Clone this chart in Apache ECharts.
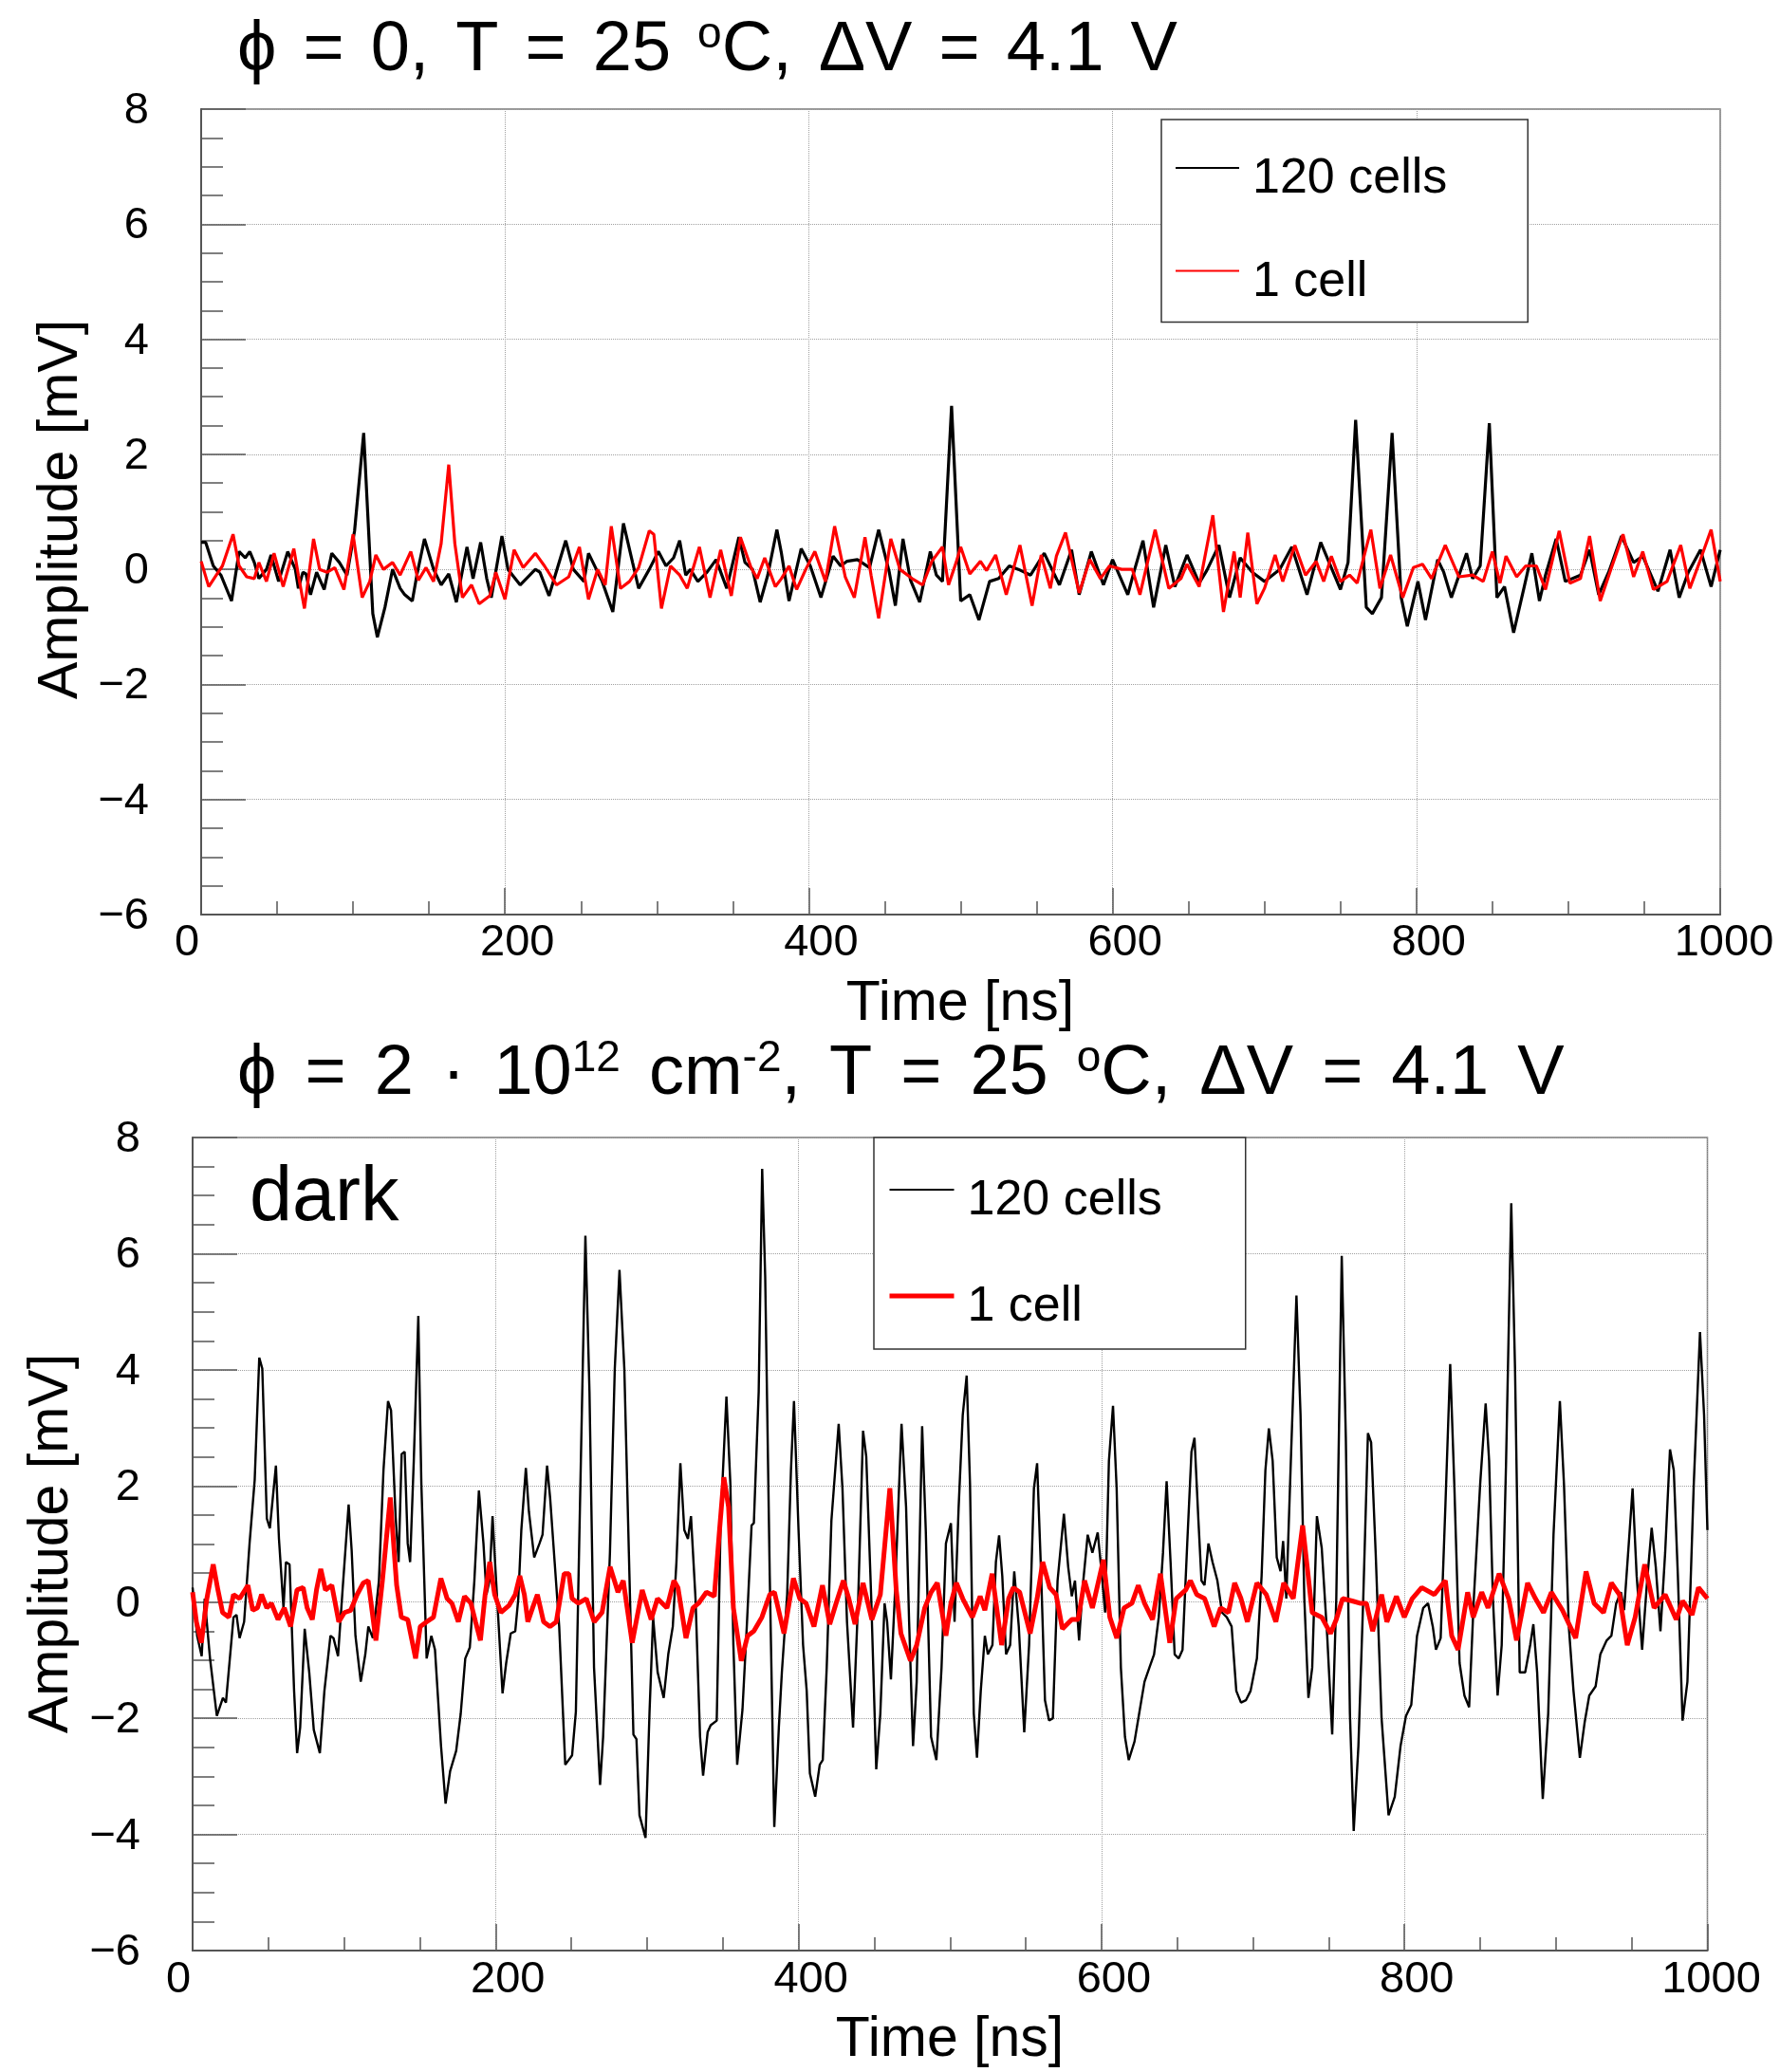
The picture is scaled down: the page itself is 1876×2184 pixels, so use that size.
<!DOCTYPE html>
<html><head><meta charset="utf-8">
<script src="https://cdn.jsdelivr.net/npm/echarts@6/dist/echarts.min.js"></script>
<style>html,body{margin:0;padding:0;background:#fff}#c{width:1876px;height:2184px}</style>
</head><body><div id="c"></div>
<script>
// ---------------- data (time [ns], amplitude [mV]) ----------------
const xRange = [0, 1000];
const yRange = [-6, 8];
const legendNames = ['120 cells', '1 cell'];

const topBlack = [[0,0.47],[3,0.47],[8,0.06],[13,-0.10],[20,-0.55],[25,0.31],[29,0.20],[32,0.31],[35,0.12],[38,-0.16],[43,0.0],[46,0.25],[51,-0.21],[57,0.31],[62,0],[64,-0.33],[67,-0.05],[69,-0.08],[72,-0.44],[76,-0.05],[81,-0.35],[86,0.28],[91,0.12],[96,-0.10],[101,0.67],[107,2.37],[111.5,0],[113,-0.77],[116,-1.18],[121,-0.66],[126,0],[131,-0.33],[134,-0.44],[139,-0.55],[142,-0.10],[147,0.53],[153,0],[158,-0.27],[163,-0.08],[168,-0.57],[175,0.39],[179,-0.16],[184,0.47],[188,-0.16],[191,-0.49],[198,0.58],[202,0],[210,-0.27],[220,0],[223,-0.05],[229,-0.46],[240,0.50],[245,0],[252,-0.21],[255,0.28],[264,-0.21],[271,-0.74],[278,0.80],[284,0.12],[288,-0.33],[295,0],[301,0.31],[306,0.06],[311,0.20],[315,0.50],[319,-0.10],[322,0],[327,-0.21],[333,-0.05],[339,0.17],[346,-0.33],[354,0.56],[358,0.12],[363,0],[368,-0.57],[373,-0.10],[379,0.69],[382,0.28],[387,-0.55],[395,0.36],[401,0.06],[408,-0.49],[416,0.23],[421,0.06],[425,0.14],[432,0.17],[440,0.03],[446,0.69],[453,-0.05],[457,-0.63],[462,0.53],[467,-0.19],[473,-0.57],[480,0.31],[484,-0.10],[488,-0.21],[494,2.84],[500,-0.55],[506,-0.44],[512,-0.88],[519,-0.21],[525,-0.16],[532,0.06],[538,0],[546,-0.10],[555,0.28],[565,-0.27],[573,0.34],[578,-0.44],[586,0.31],[594,-0.27],[600,0.17],[610,-0.44],[614,-0.05],[620,0.50],[627,-0.66],[635,0.42],[641,-0.30],[649,0.25],[657,-0.24],[662,-0.02],[670,0.42],[677,-0.49],[684,0.20],[692,-0.05],[700,-0.21],[710,0],[718,0.39],[728,-0.44],[737,0.47],[747,-0.16],[750,-0.35],[755,0.12],[760,2.60],[767,-0.66],[771,-0.77],[777,-0.49],[784,2.37],[790,-0.49],[794,-0.99],[801,-0.21],[806,-0.88],[814,0.17],[818,-0.05],[823,-0.49],[833,0.28],[837,-0.16],[842,0.06],[848,2.54],[853,-0.49],[858,-0.30],[864,-1.10],[871,-0.30],[876,0.28],[881,-0.55],[885,-0.10],[892,0.53],[898,-0.21],[908,-0.10],[914,0.34],[920,-0.44],[927,-0.02],[935,0.58],[943,0.12],[949,0.23],[959,-0.38],[967,0.34],[973,-0.49],[979,-0.05],[987,0.34],[994,-0.30],[1000,0.34]];

const topRed = [[0,0.14],[5,-0.30],[10,-0.10],[14,0.06],[21,0.61],[25,0.06],[30,-0.13],[35,-0.16],[38,0.12],[43,-0.21],[48,0.28],[54,-0.30],[61,0.36],[64,-0.10],[68,-0.68],[74,0.53],[78,0],[83,-0.05],[88,0.03],[94,-0.35],[100,0.61],[106,-0.49],[111,-0.21],[115,0.25],[120,0],[126,0.12],[131,-0.10],[138,0.31],[143,-0.19],[148,0.03],[153,-0.21],[158,0.45],[163,1.82],[167,0.45],[172,-0.49],[178,-0.27],[183,-0.60],[190,-0.46],[194,-0.05],[200,-0.52],[206,0.34],[212,0.03],[220,0.28],[226,0.06],[234,-0.27],[242,-0.13],[249,0.39],[255,-0.52],[261,0],[266,-0.27],[270,0.75],[276,-0.33],[282,-0.21],[288,0.03],[295,0.67],[298,0.61],[303,-0.68],[309,0.06],[315,-0.10],[320,-0.33],[328,0.39],[335,-0.49],[342,0.34],[349,-0.46],[355,0.56],[362,0.03],[366,-0.16],[371,0.20],[378,-0.30],[382,-0.16],[387,0.06],[392,-0.35],[398,0],[404,0.31],[411,-0.21],[417,0.75],[424,-0.13],[430,-0.49],[437,0.56],[441,-0.10],[446,-0.85],[454,0.53],[460,0],[468,-0.16],[475,-0.27],[481,0.14],[488,0.39],[492,-0.27],[497,0.12],[500,0.39],[506,-0.08],[513,0.14],[517,-0.02],[523,0.25],[530,-0.44],[539,0.42],[547,-0.63],[553,0.25],[559,-0.33],[563,0.23],[569,0.64],[578,-0.41],[585,0.17],[592,-0.16],[598,0.06],[606,0],[613,0],[618,-0.44],[628,0.69],[637,-0.33],[645,-0.16],[649,0.09],[657,-0.30],[666,0.94],[673,-0.74],[680,0.31],[684,-0.49],[689,0.64],[695,-0.60],[700,-0.33],[707,0.25],[712,-0.21],[720,0.42],[727,-0.10],[734,0.14],[739,-0.21],[744,0.23],[750,-0.21],[756,-0.10],[761,-0.24],[770,0.69],[776,-0.33],[783,0.25],[791,-0.49],[798,0.03],[804,0.09],[810,-0.16],[819,0.42],[828,-0.13],[837,-0.10],[844,-0.21],[850,0.31],[855,-0.24],[859,0.23],[866,-0.13],[872,0.06],[879,0.06],[885,-0.35],[894,0.67],[901,-0.24],[908,-0.16],[914,0.58],[921,-0.55],[928,0],[936,0.61],[943,-0.13],[949,0.31],[956,-0.35],[965,-0.21],[974,0.42],[980,-0.33],[987,0.17],[994,0.69],[1000,-0.21]];

const botBlack = [[0,0.25],[3,-0.58],[6,-0.93],[8,0.06],[11.5,-0.97],[16,-1.96],[20,-1.65],[22,-1.73],[27,-0.26],[29,-0.22],[31,-0.62],[34,-0.34],[37.6,1.01],[41,2.11],[44,4.21],[46,4.02],[49,1.44],[51,1.27],[55,2.35],[57,1.09],[60,-0.10],[61.6,0.69],[64,0.65],[67,-1.53],[69,-2.60],[71,-2.16],[74,-0.46],[77,-1.21],[80,-2.20],[84,-2.60],[87,-1.53],[91,-0.58],[93,-0.62],[96,-0.93],[99,0.21],[103,1.68],[105,0.89],[107.5,-0.58],[111,-1.37],[114,-0.90],[116,-0.42],[119,-0.62],[123,0.37],[126,2.27],[129,3.46],[131,3.30],[134,1.48],[136,0.69],[138,2.55],[140,2.59],[142,1.01],[143.6,0.69],[146,2.43],[149,4.93],[151,2.04],[154.5,-0.97],[157.6,-0.58],[160,-0.82],[164,-2.48],[167,-3.47],[170,-2.91],[174,-2.56],[177,-1.92],[180,-0.97],[183,-0.78],[186,0.37],[189,1.92],[192,1.01],[194,0.13],[196,0.37],[198,1.48],[200,0.53],[204.6,-1.57],[207,-1.05],[210,-0.54],[213,-0.50],[215,0.06],[217,1.24],[220,2.31],[222,1.56],[225.5,0.77],[229,1.01],[231,1.16],[234,2.35],[236,1.80],[239,0.69],[242,-0.42],[246,-2.80],[250.5,-2.64],[253,-1.89],[255.7,1.64],[259.3,6.31],[262,3.62],[265,-1.13],[269,-3.15],[271,-2.32],[275.5,0.85],[278.7,4.02],[281.8,5.72],[285,4.02],[288,0.85],[291,-2.28],[293,-2.36],[295,-3.67],[299,-4.06],[301.6,-1.92],[304,-0.26],[307,-1.21],[311,-1.65],[314,-0.90],[317,-0.42],[319.4,0.69],[322,2.39],[324.6,1.24],[327,1.09],[329,1.48],[332,0.06],[335,-2.32],[337,-2.99],[340,-2.24],[342,-2.12],[346,-2.04],[348.6,1.40],[352.4,3.54],[355,2.04],[357,-0.74],[359.5,-2.80],[363,-1.85],[366,-0.34],[369,1.32],[370.5,1.36],[373.7,3.62],[376,7.46],[378,5.60],[381,0.45],[384,-3.87],[387,-2.16],[389,-1.21],[392.5,0.13],[395,2.27],[397,3.46],[400,1.24],[403,-0.74],[405.4,-1.53],[407.5,-2.95],[411,-3.35],[414,-2.80],[416,-2.72],[418.6,-1.13],[421.7,1.40],[426.5,3.07],[429,1.96],[432,-0.34],[436,-2.16],[439.4,0.06],[442.6,2.95],[444.7,2.51],[448,0.06],[451.3,-2.88],[454,-1.92],[456.8,-0.02],[458.5,-0.34],[461,-1.33],[463.5,0.06],[468,3.07],[471,1.64],[473,-0.34],[475.6,-2.48],[478,-1.37],[481.6,3.03],[484,1.24],[487.5,-2.32],[491,-2.72],[494.4,-1.13],[497.3,1.01],[500.6,1.36],[503,-0.34],[505.7,1.64],[508.4,3.22],[511,3.90],[513.2,2.04],[515.7,-1.92],[517.8,-2.68],[520.3,-1.53],[523,-0.58],[525,-0.90],[528,-0.74],[530.3,0.69],[532.4,1.15],[534.5,0.45],[537,-0.90],[539.7,-0.74],[542.4,0.53],[545.4,-0.42],[549,-2.24],[552.2,-0.74],[555.4,1.96],[557.5,2.39],[560.2,0.45],[562.7,-1.69],[565.4,-2.04],[567.9,-2.00],[571,0.37],[575.2,1.52],[578,0.61],[580.4,0.10],[582.5,0.37],[585.2,-0.66],[587.7,0.29],[590.9,1.16],[594,0.85],[597.5,1.20],[600.3,0.45],[602.4,-0.18],[604.9,2.43],[607.6,3.38],[610,1.96],[612.8,-1.13],[615.5,-2.32],[618,-2.72],[621.8,-2.40],[625.3,-1.85],[628.4,-1.37],[631.6,-1.13],[634.7,-0.90],[637.8,-0.26],[640.6,0.85],[643,2.08],[645.6,0.69],[648.3,-0.90],[651,-0.97],[653.5,-0.82],[656.6,1.01],[659.4,2.59],[661.4,2.83],[664,1.40],[666,0.37],[668,0.29],[670.6,1.01],[673.3,0.69],[676.5,0.37],[679.6,-0.18],[682.7,-0.26],[685.9,-0.42],[689,-1.53],[692.1,-1.73],[695.3,-1.69],[698.4,-1.53],[702.6,-0.97],[705.7,0.45],[708.2,2.27],[710.5,2.99],[713,2.43],[715.7,0.77],[718.2,0.53],[719.9,1.05],[722,0.06],[725,2.43],[728.7,5.28],[731.4,3.22],[733.9,0.06],[736.6,-1.65],[739.1,-1.13],[742.2,1.48],[745.4,0.93],[749,-0.58],[752.3,-2.28],[755,0.06],[758.6,5.96],[761.3,2.83],[764,-1.92],[766.5,-3.94],[769.6,-2.48],[772.8,0.06],[775.9,2.91],[778,2.75],[781,0.85],[784.9,-2.00],[789.5,-3.67],[793.6,-3.35],[797.4,-2.48],[801,-1.96],[804.5,-1.77],[808.3,-0.58],[812.4,-0.10],[815.6,-0.02],[818.7,-0.42],[820.8,-0.82],[823.9,-0.62],[827,1.64],[830.2,4.10],[832.9,2.04],[836.4,-1.05],[839.6,-1.61],[842.7,-1.81],[845.8,0.06],[850,2.04],[853.6,3.42],[855.9,2.43],[858.4,0.06],[861.5,-1.61],[864.2,-0.74],[867.1,2.43],[870.5,6.87],[873,4.02],[876.1,-1.21],[879.7,-1.21],[883,-0.74],[885.1,-0.38],[887.6,-1.21],[891.3,-3.39],[894.9,-1.92],[898.4,1.16],[902.6,3.46],[905.3,2.04],[908.5,-0.42],[911.6,-1.53],[915.8,-2.68],[918.9,-2.08],[922,-1.61],[926.2,-1.45],[929.3,-0.90],[933.5,-0.66],[936.6,-0.58],[939.8,-0.02],[942.9,0.17],[945,-0.14],[948.1,1.01],[950.6,1.96],[953.3,0.45],[956.9,-0.82],[960.2,0.37],[963.2,1.28],[965.9,0.61],[969,-0.50],[972.1,0.85],[975.3,2.63],[977.8,2.27],[980.5,0.45],[983.6,-2.04],[986.8,-1.37],[991,2.04],[995.1,4.65],[997.8,3.22],[1000,1.24]];

const botRed = [[0,0.17],[2.5,-0.34],[5.8,-0.70],[9.4,0.06],[13.6,0.65],[16.7,0.21],[19.8,-0.18],[24,-0.26],[27,0.13],[31,0.06],[36.5,0.29],[39.7,-0.14],[42.8,-0.10],[45.5,0.13],[49,-0.10],[52,-0.02],[56.4,-0.30],[60.5,-0.10],[64.7,-0.42],[68.9,0.21],[73,0.25],[75.6,-0.10],[79,-0.30],[81.8,0.21],[84.6,0.57],[87.7,0.21],[91.9,0.29],[96.5,-0.34],[100.2,-0.18],[104.4,-0.14],[108.6,0.13],[112.7,0.33],[115.9,0.37],[121,-0.66],[125.3,0.37],[130.5,1.80],[134.7,0.29],[137.8,-0.26],[142,-0.30],[147.2,-0.97],[150.3,-0.42],[154.5,-0.34],[159,-0.26],[163.9,0.41],[168,0.06],[171.2,-0.02],[175.4,-0.34],[179.5,0.10],[183.7,-0.02],[186.8,-0.34],[190,-0.66],[193.1,0.13],[196.2,0.69],[199.4,0.13],[203.5,-0.18],[208.8,-0.06],[213,0.13],[216,0.45],[219,0.13],[221.3,-0.34],[224.4,-0.10],[227.6,0.13],[231.7,-0.34],[235.9,-0.42],[240.1,-0.34],[245.3,0.49],[248.4,0.49],[250.5,0.06],[254.7,-0.02],[259.9,0.06],[265.1,-0.34],[270.3,-0.18],[275.6,0.61],[280.8,0.17],[284.3,0.37],[290.2,-0.70],[296.8,0.21],[302.7,-0.30],[306.9,0.06],[313.1,-0.10],[317.7,0.37],[320.4,0.25],[325.7,-0.62],[330.3,-0.10],[334,-0.02],[339.2,0.17],[344.4,0.10],[347.6,1.16],[350.7,2.15],[353.8,1.64],[357,-0.10],[362.2,-1.01],[366.4,-0.58],[370.5,-0.50],[375.8,-0.26],[381,0.13],[384.1,0.17],[390.4,-0.54],[396.6,0.41],[400.8,0.06],[405,-0.02],[410.2,-0.42],[415.8,0.29],[420.6,-0.38],[424.8,-0.02],[429.6,0.37],[433.2,0.06],[437.3,-0.38],[442.6,0.33],[448.4,-0.30],[454,0.13],[460.3,1.96],[464.5,0.21],[467.6,-0.54],[473.9,-1.01],[478,-0.74],[483.3,-0.10],[487.5,0.17],[491.6,0.33],[497.3,-0.58],[500.6,-0.02],[504.2,0.33],[508.4,0.06],[514.7,-0.26],[519.9,0.10],[523,-0.14],[527.8,0.49],[534.1,-0.74],[538.7,0.06],[541.8,0.25],[546,0.17],[552.9,-0.54],[557.5,0.06],[561.2,0.69],[565.8,0.25],[570,0.13],[574.2,-0.46],[580.4,-0.30],[584.6,-0.30],[588.8,0.37],[594,-0.10],[601.3,0.73],[605.5,-0.26],[610.1,-0.62],[614.9,-0.10],[620.1,-0.02],[624.3,0.29],[628.4,-0.02],[633.7,-0.30],[638.9,0.49],[645.1,-0.70],[649.3,0.06],[655.6,0.21],[658.7,0.37],[662.9,0.13],[668.1,0.06],[674.4,-0.42],[678.6,-0.10],[683.8,-0.18],[687.9,0.33],[692.1,0.06],[696.3,-0.34],[702.6,0.33],[708.8,0.13],[715.1,-0.34],[720.3,0.33],[726.6,0.06],[732.8,1.32],[739.1,-0.18],[745.4,-0.26],[751.2,-0.54],[755,-0.30],[759.2,0.06],[765.5,0.02],[770.7,-0.02],[774.9,-0.02],[779,-0.50],[784.9,0.13],[788.4,-0.34],[794.7,0.10],[799.9,-0.26],[805.1,0.06],[811.4,0.25],[819.7,0.13],[827,0.37],[831.2,-0.58],[835.4,-0.82],[841.7,0.17],[845.4,-0.26],[851,0.17],[855.2,-0.10],[862.5,0.49],[868.8,0.06],[874,-0.66],[881.3,0.33],[886.5,0.06],[891.8,-0.18],[897,0.17],[904.3,-0.14],[913,-0.62],[919.9,0.53],[925.2,-0.02],[931.4,-0.18],[936.6,0.33],[941.9,0.13],[947.1,-0.74],[952.3,-0.26],[958.6,0.65],[964.8,-0.10],[972.1,0.13],[979.4,-0.30],[983.6,0.02],[989.9,-0.22],[994.1,0.25],[1000,0.06]];

// ---------------- chart ----------------
const FONT = '"Liberation Sans", Arial, Helvetica, sans-serif';
const fmt = v => (v < 0 ? '\u2212' + Math.abs(v) : String(v));
const AX = '#555';
const LBL = 47;

function xAxisCfg(gi, margin) {
  const base = { fontSize: LBL, fontFamily: FONT, color: '#000' };
  return {
    type: 'value', gridIndex: gi, min: xRange[0], max: xRange[1], interval: 200,
    axisLine: { show: true, onZero: false, lineStyle: { color: AX, width: 2 } },
    axisTick: { show: true, inside: true, length: 28, lineStyle: { color: AX, width: 1.5 } },
    minorTick: { show: true, splitNumber: 4, length: 14, lineStyle: { color: AX, width: 1.5 } },
    splitLine: { show: true, lineStyle: { color: '#a0a0a0', type: 'dotted', width: 1 } },
    minorSplitLine: { show: false },
    axisLabel: {
      color: '#000', fontSize: LBL, fontFamily: FONT, margin,
      showMinLabel: true, showMaxLabel: true, hideOverlap: false,
      formatter: v => v === xRange[0] ? '{l|' + fmt(v) + '}' : (v === xRange[1] ? '{e|' + fmt(v) + '}' : '{r|' + fmt(v) + '}'),
      rich: {
        l: Object.assign({ padding: [0, 30, 0, 0] }, base),
        r: Object.assign({ padding: [0, 0, 0, 26] }, base),
        e: Object.assign({ padding: [0, 0, 0, 8] }, base)
      }
    }
  };
}
function yAxisCfg(gi, margin) {
  const base = { fontSize: LBL, fontFamily: FONT, color: '#000' };
  return {
    type: 'value', gridIndex: gi, min: yRange[0], max: yRange[1], interval: 2,
    axisLine: { show: true, onZero: false, lineStyle: { color: AX, width: 2 } },
    axisTick: { show: true, inside: true, length: 47, lineStyle: { color: AX, width: 1.5 } },
    minorTick: { show: true, splitNumber: 4, length: 23, lineStyle: { color: AX, width: 1.5 } },
    splitLine: { show: true, lineStyle: { color: '#a0a0a0', type: 'dotted', width: 1 } },
    minorSplitLine: { show: false },
    axisLabel: {
      color: '#000', fontSize: LBL, fontFamily: FONT, margin,
      showMinLabel: true, showMaxLabel: true, hideOverlap: false,
      formatter: v => '{y|' + fmt(v) + '}',
      rich: { y: Object.assign({ padding: [4, 0, 0, 0] }, base) }
    }
  };
}
function lineSeries(name, gi, data, color, width, z) {
  return { type: 'line', name, xAxisIndex: gi, yAxisIndex: gi, data, symbol: 'none', showSymbol: false,
           lineStyle: { color, width }, itemStyle: { color }, z, animation: false, silent: true };
}
function legendCfg(left, top, padding, gap, iw, names, widths) {
  return {
    orient: 'vertical', left, top, padding, itemGap: gap, itemWidth: iw, itemHeight: 2,
    backgroundColor: '#fff', borderColor: '#333', borderWidth: 1.5, borderRadius: 0,
    selectedMode: false, itemStyle: { opacity: 0 },
    formatter: n => '{b| }{a|' + n.trim() + '}',
    textStyle: { fontSize: 52, fontFamily: FONT, color: '#000',
                 rich: {
                   a: { fontSize: 52, fontFamily: FONT, color: '#000', lineHeight: 64, verticalAlign: 'bottom' },
                   b: { fontSize: 1, fontFamily: FONT, lineHeight: 76, width: 9 }
                 } },
    data: names.map((n, i) => ({ name: n, lineStyle: { width: widths[i] } }))
  };
}
// title rich text: main glyphs, superscripts and fixed-width word gaps
function titleRich(gap) {
  return {
    m: { fontSize: 74, fontFamily: FONT, fontWeight: 'normal', color: '#000', lineHeight: 80 },
    s: { fontSize: 46, fontFamily: FONT, fontWeight: 'normal', color: '#000', lineHeight: 46, verticalAlign: 'top' },
    w: { fontSize: 74, fontFamily: FONT, fontWeight: 'normal', color: '#000', lineHeight: 80, width: gap }
  };
}
function textEl(text, x, y, size, rot, align) {
  return { type: 'text', x, y, rotation: rot || 0, silent: true,
           style: { text, x: 0, y: 0, font: size + 'px ' + FONT, fontSize: size, fontFamily: FONT, fill: '#000',
                    textAlign: align || 'center', align: align || 'center',
                    textVerticalAlign: 'middle', verticalAlign: 'middle' } };
}

const W = '{w| }';
const title1 = '{m|\u03D5}' + W + '{m|=}' + W + '{m|0,}' + W + '{m|T}' + W + '{m|=}' + W + '{m|25}' + W +
               '{s|o}{m|C,}' + W + '{m|\u0394V}' + W + '{m|=}' + W + '{m|4.1}' + W + '{m|V}';
const title2 = '{m|\u03D5}' + W + '{m|=}' + W + '{m|2}' + W + '{m|\u00B7}' + W + '{m|10}{s|12}' + W + '{m|cm}{s|-2}{m|,}' + W +
               '{m|T}' + W + '{m|=}' + W + '{m|25}' + W + '{s|o}{m|C,}' + W + '{m|\u0394V}' + W + '{m|=}' + W + '{m|4.1}' + W + '{m|V}';

const botNames = legendNames.map(n => n + ' ');
const chart = echarts.init(document.getElementById('c'), null, { renderer: 'canvas', width: 1876, height: 2184 });
chart.setOption({
  animation: false,
  backgroundColor: '#fff',
  title: [
    { text: title1, left: 250, top: 14, padding: 0, textStyle: { fontWeight: 'normal', rich: titleRich(28) } },
    { text: title2, left: 250, top: 1093, padding: 0, textStyle: { fontWeight: 'normal', rich: titleRich(30) } }
  ],
  grid: [
    { left: 212, top: 115, width: 1601, height: 849, show: true, borderColor: '#777', borderWidth: 1.5, outerBoundsMode: 'none', containLabel: false },
    { left: 203, top: 1199, width: 1596.5, height: 857, show: true, borderColor: '#777', borderWidth: 1.5, outerBoundsMode: 'none', containLabel: false }
  ],
  xAxis: [xAxisCfg(0, 7), xAxisCfg(1, 8)],
  yAxis: [yAxisCfg(0, 55), yAxisCfg(1, 55)],
  legend: [
    legendCfg(1224, 126, [37, 85, 16, 14], 56.6, 67, legendNames, [2, 2]),
    legendCfg(921, 1199, [41, 88, 18, 14], 60, 68, botNames, [2, 5])
  ],
  series: [
    lineSeries(legendNames[0], 0, topBlack, '#000', 3.2, 2),
    lineSeries(legendNames[1], 0, topRed, '#ff0000', 3.2, 3),
    lineSeries(botNames[0], 1, botBlack, '#000', 2.4, 2),
    lineSeries(botNames[1], 1, botRed, '#ff0000', 5, 3)
  ],
  graphic: [
    textEl('Amplitude [mV]', 65, 537, 59, Math.PI / 2),
    textEl('Time [ns]', 1012, 1059, 59, 0),
    textEl('Amplitude [mV]', 55, 1627, 59, Math.PI / 2),
    textEl('Time [ns]', 1001, 2151, 59, 0),
    textEl('dark', 263, 1264, 81, 0, 'left')
  ]
});
</script></body></html>
